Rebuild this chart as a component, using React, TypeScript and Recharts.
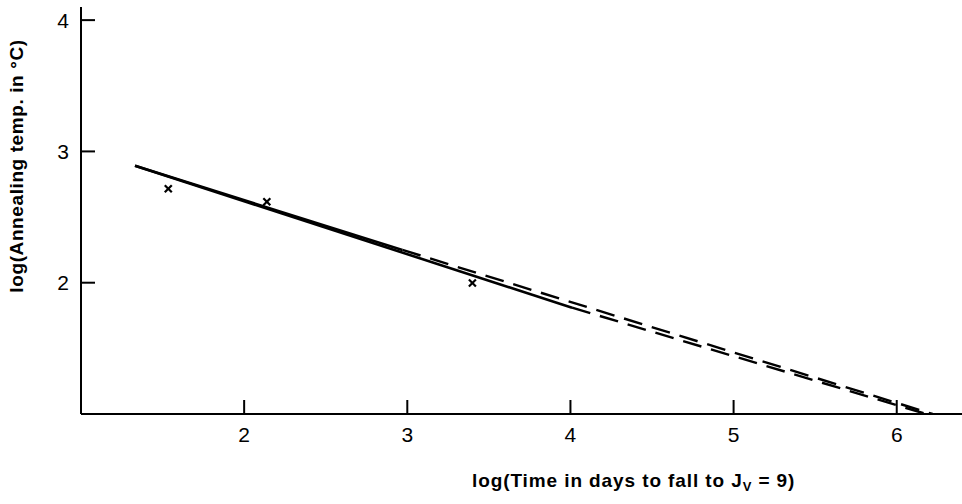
import React from "react";
import { ComposedChart, Line, Scatter, XAxis, YAxis } from "recharts";

const xTicks = [2, 3, 4, 5, 6];
const yTicks = [2, 3, 4];

// measured annealing points (log time, log temp)
const points = [
  { x: 1.535, y: 2.715 },
  { x: 2.139, y: 2.616 },
  { x: 3.399, y: 1.998 },
];

// line A: solid then dashed extrapolation
const lineASolid = [
  { x: 1.331, y: 2.89 },
  { x: 2.97, y: 2.25 },
];
const lineADashed = [
  { x: 2.97, y: 2.25 },
  { x: 6.22, y: 1.0 },
];
// line B: solid to 4, dashed beyond
const lineBSolid = [
  { x: 1.331, y: 2.89 },
  { x: 4.01, y: 1.81 },
];
const lineBDashed = [
  { x: 4.01, y: 1.81 },
  { x: 6.18, y: 1.0 },
];

const FONT = "'Liberation Sans', Arial, Helvetica, sans-serif";

const YTick = (props: any) => {
  const { x, y, payload } = props;
  return (
    <g>
      <line x1={x} x2={x + 14} y1={y} y2={y} stroke="#000" strokeWidth={2} />
      <text x={x - 12} y={y} textAnchor="end" dominantBaseline="central" fontSize={21} fontFamily={FONT} fill="#000">
        {payload.value}
      </text>
    </g>
  );
};

const XTick = (props: any) => {
  const { x, y, payload } = props;
  return (
    <g>
      <line x1={x} x2={x} y1={y} y2={y - 14} stroke="#000" strokeWidth={2} />
      <text x={x} y={y + 20} textAnchor="middle" dominantBaseline="central" fontSize={21} fontFamily={FONT} fill="#000">
        {payload.value}
      </text>
    </g>
  );
};

const Cross = (props: any) => {
  const { cx, cy } = props;
  const s = 3.5;
  return (
    <g stroke="#000" strokeWidth={2.2}>
      <line x1={cx - s} y1={cy - s} x2={cx + s} y2={cy + s} />
      <line x1={cx - s} y1={cy + s} x2={cx + s} y2={cy - s} />
    </g>
  );
};

const YTitle = () => (
  <text
    x={16}
    y={166}
    transform="rotate(-90 16 166)"
    textAnchor="middle"
    dominantBaseline="central"
    fontSize={19}
    letterSpacing={0.6}
    fontWeight="bold"
    fontFamily={FONT}
    fill="#000"
  >
    log(Annealing temp. in °C)
  </text>
);

const XTitle = () => (
  <text x={472} y={487} textAnchor="start" fontSize={19} letterSpacing={0.9} fontWeight="bold" fontFamily={FONT} fill="#000">
    log(Time in days to fall to J
    <tspan fontSize={13} dy={4}>V</tspan>
    <tspan dy={-4}> = 9)</tspan>
  </text>
);

export default function App() {
  return (
    <div style={{ position: "absolute", left: 0, top: 0, background: "#fff" }}>
      <ComposedChart width={962} height={504} margin={{ top: 7, right: 0, left: 0, bottom: 0 }}>
        <XAxis
          type="number"
          dataKey="x"
          domain={[1, 6.4]}
          ticks={xTicks}
          allowDataOverflow
          tickSize={0}
          tickMargin={0}
          tickLine={false}
          tick={<XTick />}
          height={90}
          axisLine={{ stroke: "#000", strokeWidth: 2 }}
          label={{ content: () => <XTitle /> }}
        />
        <YAxis
          type="number"
          dataKey="y"
          domain={[1, 4.1]}
          ticks={yTicks}
          allowDataOverflow
          tickSize={0}
          tickMargin={0}
          tickLine={false}
          tick={<YTick />}
          width={81}
          axisLine={{ stroke: "#000", strokeWidth: 2 }}
          label={{ content: () => <YTitle /> }}
        />
        <Line data={lineASolid} dataKey="y" stroke="#000" strokeWidth={2.6} dot={false} isAnimationActive={false} />
        <Line data={lineADashed} dataKey="y" stroke="#000" strokeWidth={2.4} strokeDasharray="19 10" dot={false} isAnimationActive={false} />
        <Line data={lineBSolid} dataKey="y" stroke="#000" strokeWidth={2.6} dot={false} isAnimationActive={false} />
        <Line data={lineBDashed} dataKey="y" stroke="#000" strokeWidth={2.4} strokeDasharray="19 10" dot={false} isAnimationActive={false} />
        <Scatter data={points} dataKey="y" shape={<Cross />} isAnimationActive={false} />
      </ComposedChart>
    </div>
  );
}
